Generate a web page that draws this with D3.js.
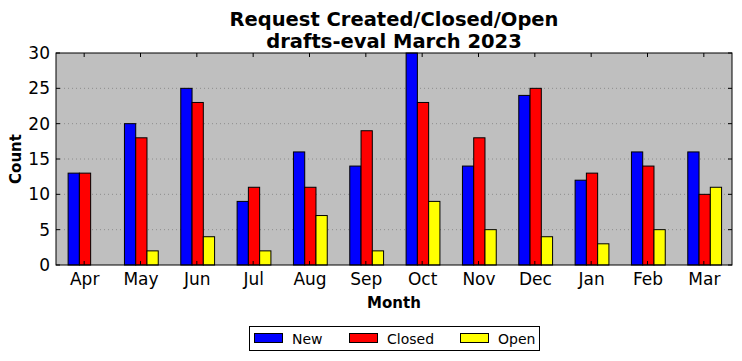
<!DOCTYPE html>
<html><head><meta charset="utf-8">
<script src="https://cdn.jsdelivr.net/npm/d3@7"></script>
<style>body{margin:0;background:#fff}svg{display:block}text{font-family:"DejaVu Sans",sans-serif}</style>
</head><body><svg id="c" width="742" height="361"></svg>
<script>
const months = ["Apr","May","Jun","Jul","Aug","Sep","Oct","Nov","Dec","Jan","Feb","Mar"];
const newVals = [13,20,25,9,16,14,30,14,24,12,16,16];
const closedVals = [13,18,23,11,11,19,23,18,25,13,14,10];
const openVals = [0,2,4,2,7,2,9,5,4,3,5,11];
const seriesNames = ["New","Closed","Open"];
const seriesColors = ["#0000ff","#ff0000","#ffff00"];
const yTicks = [0,5,10,15,20,25,30];

const svg = d3.select("#c");
const L=56, R=732, T=53, B=265;
const x = d3.scaleLinear().domain([-0.5, 11.5]).range([L, R]);
const y = d3.scaleLinear().domain([0, 30]).range([B, T]);

svg.append("rect").attr("x",L).attr("y",T).attr("width",R-L).attr("height",B-T).attr("fill","#bfbfbf");

// grid
svg.append("g").selectAll("line").data(yTicks.slice(1,-1)).join("line")
  .attr("x1",L).attr("x2",R).attr("y1",d=>y(d)).attr("y2",d=>y(d))
  .attr("stroke","#808080").attr("stroke-width",0.8).attr("stroke-dasharray","1,3");

const series = [newVals, closedVals, openVals];
const bw = 0.2;
series.forEach((vals, s) => {
  svg.append("g").selectAll("rect").data(vals).join("rect")
    .attr("x",(d,i)=>x(i - 0.285 + s*bw))
    .attr("width",x(bw)-x(0))
    .attr("y",d=>y(d))
    .attr("height",d=>y(0)-y(d))
    .attr("fill",seriesColors[s]).attr("stroke","#000").attr("stroke-width",1);
});

// frame
svg.append("rect").attr("x",L).attr("y",T).attr("width",R-L).attr("height",B-T)
  .attr("fill","none").attr("stroke","#000").attr("stroke-width",1);

// ticks inward
const tk = svg.append("g").attr("stroke","#000").attr("stroke-width",1);
months.forEach((m,i)=>{
  tk.append("line").attr("x1",x(i)).attr("x2",x(i)).attr("y1",T).attr("y2",T+4);
  tk.append("line").attr("x1",x(i)).attr("x2",x(i)).attr("y1",B).attr("y2",B-4);
});
yTicks.forEach(v=>{
  tk.append("line").attr("x1",L).attr("x2",L+4).attr("y1",y(v)).attr("y2",y(v));
  tk.append("line").attr("x1",R).attr("x2",R-4).attr("y1",y(v)).attr("y2",y(v));
});

const xAxis = svg.append("g").attr("transform",`translate(0,${B})`)
  .call(d3.axisBottom(x).tickValues(d3.range(12)).tickFormat(i=>months[i]).tickSize(0).tickPadding(8));
xAxis.select(".domain").remove();
xAxis.selectAll("text").attr("font-size",17).attr("fill","#000").style("font-family","DejaVu Sans");
const yAxis = svg.append("g").attr("transform",`translate(${L},0)`)
  .call(d3.axisLeft(y).tickValues(yTicks).tickSize(0).tickPadding(6));
yAxis.select(".domain").remove();
yAxis.selectAll("text").attr("font-size",17).attr("fill","#000").style("font-family","DejaVu Sans");

svg.append("text").attr("x",(L+R)/2).attr("y",308).attr("text-anchor","middle")
  .attr("font-size",15).attr("font-weight","bold").text("Month");
svg.append("text").attr("transform",`translate(21,${(T+B)/2}) rotate(-90)`).attr("text-anchor","middle")
  .attr("font-size",15).attr("font-weight","bold").text("Count");

svg.append("text").attr("x",(L+R)/2).attr("y",26).attr("text-anchor","middle")
  .attr("font-size",19.5).attr("font-weight","bold").text("Request Created/Closed/Open");
svg.append("text").attr("x",(L+R)/2).attr("y",48).attr("text-anchor","middle")
  .attr("font-size",19.5).attr("font-weight","bold").text("drafts-eval March 2023");

// legend
const lg = svg.append("g");
lg.append("rect").attr("x",249.5).attr("y",326.5).attr("width",290).attr("height",24)
  .attr("fill","#fff").attr("stroke","#000").attr("stroke-width",1);
const lx = [254, 349, 460];
seriesNames.forEach((n,s)=>{
  lg.append("rect").attr("x",lx[s]+0.5).attr("y",333.5).attr("width",28).attr("height",9)
    .attr("fill",seriesColors[s]).attr("stroke","#000").attr("stroke-width",1);
  lg.append("text").attr("x",lx[s]+38).attr("y",343.5).attr("font-size",14).text(n);
});
</script></body></html>
